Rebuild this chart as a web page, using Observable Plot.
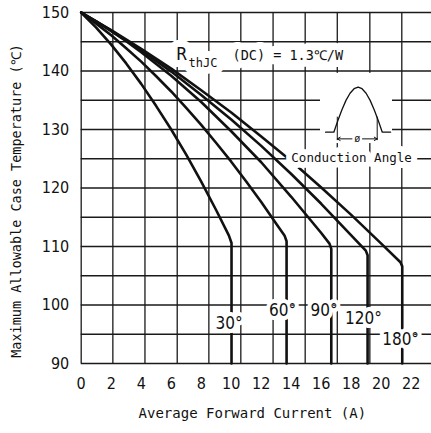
<!DOCTYPE html>
<html>
<head>
<meta charset="utf-8">
<script src="https://cdn.jsdelivr.net/npm/d3@7"></script>
<script src="https://cdn.jsdelivr.net/npm/@observablehq/plot@0.6"></script>
<style>
  html, body { margin: 0; padding: 0; background: #fff; }
</style>
</head>
<body>
<div id="chart"></div>
<script>
// ---- axis ticks and grid ----
const xTicks = [0, 2, 4, 6, 8, 10, 12, 14, 16, 18, 20, 22];
const yTicks = [90, 100, 110, 120, 130, 140, 150];
const gridCurrent = [0, 2.11, 4.25, 6.4, 8.51, 10.64, 12.79, 14.93, 17.07, 19.24, 21.37];
const gridTemp = [90, 95, 100, 105, 110, 115, 120, 125, 130, 135, 140, 145, 150];

// ---- curves (conduction angle) ----
const angleNames = ["30°", "60°", "90°", "120°", "180°"];
const current30 = [0, 1, 2, 3, 4, 5, 6, 7, 8, 9, 9.84, 10.02, 10.02];
const temp30    = [150, 147.4, 144.5, 141.3, 137.8, 134.0, 130.0, 125.7, 121.1, 116.2, 111.9, 110.6, 90];
const current60 = [0, 1, 2, 3, 4, 5, 6, 7, 8, 9, 10, 11, 12, 13, 13.55, 13.69, 13.69];
const temp60    = [150, 148.1, 146.1, 143.9, 141.6, 139.1, 136.5, 133.7, 130.8, 127.7, 124.5, 121.1, 117.6, 113.9, 111.9, 110.9, 90];
const current90 = [0, 1, 2, 3, 4, 6, 8, 10, 12, 14, 16, 16.55, 16.67, 16.67];
const temp90    = [150, 148.5, 146.8, 145.1, 143.2, 139.2, 134.7, 129.7, 124.4, 118.5, 112.3, 110.5, 109.6, 90];
const current120 = [0, 2, 4, 6, 8, 10, 12, 14, 16, 18, 18.97, 19.09, 19.09];
const temp120    = [150, 146.9, 143.5, 139.9, 135.9, 131.7, 127.2, 122.4, 117.3, 111.9, 109.3, 108.5, 90];
const current180 = [0, 2, 4, 6, 8, 10, 12, 14, 16, 18, 20, 21.28, 21.4, 21.4];
const temp180    = [150, 147.0, 143.8, 140.4, 136.7, 132.9, 128.8, 124.6, 120.1, 115.4, 110.5, 107.3, 106.6, 90];

// ---- angle labels ----
const labelCurrent = [9.85, 13.42, 16.19, 18.82, 21.29];
const labelTemp    = [96.75, 99.06, 98.97, 97.61, 94.02];

// ---- annotation texts ----
const xTitle = "Average Forward Current (A)";
const yTitle = "Maximum Allowable Case Temperature (℃)";
const rthParts = ["R", "thJC", "(DC) = 1.3℃/W"];
const rthCurrent = [6.35, 7.15, 10.09];
const rthTemp = [142.74, 141.37, 142.56];
const conductionText = "Conduction Angle";

// ---- waveform icon (half sine with conduction angle) ----
const waveCurrent = [16.29, 16.84, 17.11, 17.38, 17.65, 17.92, 18.19, 18.46, 18.72, 18.99, 19.26, 19.53, 19.80, 20.07, 20.62];
const waveTemp    = [129.54, 129.54, 131.53, 133.39, 134.98, 136.2, 136.97, 137.23, 136.97, 136.2, 134.98, 133.39, 131.53, 129.54, 129.54];
const markerCurrent = [17.07, 19.73];

// ---- build tables ----
const curveSets = [
  [current30, temp30], [current60, temp60], [current90, temp90],
  [current120, temp120], [current180, temp180]
];
const rows = curveSets.flatMap(([cs, ts], k) =>
  cs.map((c, i) => ({angle: angleNames[k], I: c, T: ts[i]})));
const labels = angleNames.map((a, k) => ({text: a, I: labelCurrent[k], T: labelTemp[k]}));
const wave = waveCurrent.map((c, i) => ({I: c, T: waveTemp[i]}));
const rth = rthParts.map((t, k) => ({text: t, I: rthCurrent[k], T: rthTemp[k], size: [17, 12, 13.5][k]}));

const mono = "'DejaVu Sans Mono','Liberation Mono',monospace";
const narrow = "'Liberation Sans Narrow','Arial Narrow','DejaVu Sans Condensed','Liberation Sans',sans-serif";
const ink = "#111";

const rthText = (extra) => rth.map((d) => Plot.text([d], {
  x: "I", y: "T", text: "text", textAnchor: "start", fontSize: d.size, fontFamily: mono, ...extra
}));

const chart = Plot.plot({
  width: 431,
  height: 433,
  marginLeft: 80.7,
  marginRight: 0,
  marginTop: 12,
  marginBottom: 70,
  style: {fontFamily: narrow, background: "#fff", color: ink},
  x: {domain: [0, 23.35]},
  y: {domain: [90, 150]},
  marks: [
    Plot.ruleY(gridTemp, {stroke: "#1a1a1a", strokeWidth: 1.3}),
    Plot.ruleX(gridCurrent, {stroke: "#1a1a1a", strokeWidth: 1.3}),
    Plot.line(rows, {x: "I", y: "T", z: "angle", stroke: ink, strokeWidth: 2.6, strokeLinejoin: "round"}),
    // icon backdrop
    Plot.rect([{}], {x1: () => 15.95, x2: () => 20.75, y1: () => 127.6, y2: () => 139.6, fill: "white"}),
    Plot.line(wave, {x: "I", y: "T", stroke: ink, strokeWidth: 1.3, curve: "linear"}),
    Plot.ruleX(markerCurrent, {y1: 128.1, y2: 132.1, stroke: ink, strokeWidth: 1}),
    Plot.arrow([{a: 18.05, b: markerCurrent[0]}, {a: 18.75, b: markerCurrent[1]}],
      {x1: "a", x2: "b", y1: 128.4, y2: 128.4, stroke: ink, strokeWidth: 1, headLength: 5}),
    Plot.text(["ø"], {x: 18.4, y: 128.4, fontSize: 10, fontFamily: mono, fill: ink, stroke: "white", strokeWidth: 3}),
    // annotations
    Plot.text([conductionText], {x: 18.02, y: 125.13, fontSize: 12.5, fontFamily: mono, fill: ink, stroke: "white", strokeWidth: 12}),
    ...rthText({fill: "white", stroke: "white", strokeWidth: 14}),
    ...rthText({fill: ink}),
    Plot.text(labels, {x: "I", y: "T", text: "text", fontSize: 17, fontFamily: narrow, fill: ink, stroke: "white", strokeWidth: 8}),
    // axes
    Plot.axisX({ticks: xTicks, tickSize: 0, tickPadding: 14, fontSize: 16, label: null}),
    Plot.axisY({ticks: yTicks, tickSize: 0, tickPadding: 12, fontSize: 16, label: null}),
    Plot.text([xTitle], {frameAnchor: "bottom", textAnchor: "middle", lineAnchor: "middle", dx: -4, dy: 50, fontSize: 14, fontFamily: mono, fill: ink}),
    Plot.text([yTitle], {frameAnchor: "left", textAnchor: "middle", lineAnchor: "middle", dx: 16.5 - 80.7, dy: 13, rotate: -90, fontSize: 13.5, fontFamily: mono, fill: ink})
  ]
});
document.getElementById("chart").appendChild(chart);
</script>
</body>
</html>
